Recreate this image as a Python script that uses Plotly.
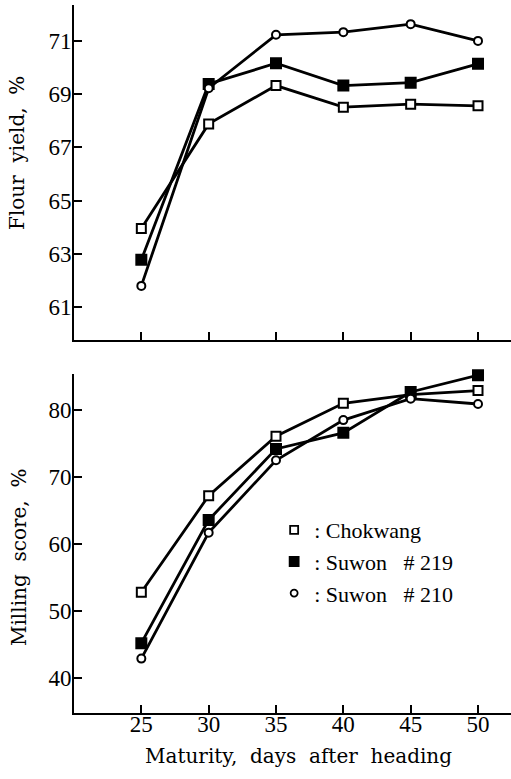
import plotly.graph_objects as go
from plotly.subplots import make_subplots

days = [25, 30, 35, 40, 45, 50]
legend_labels = [":\u00a0Chokwang",
                 ":\u00a0Suwon\u00a0\u00a0\u00a0#\u00a0219",
                 ":\u00a0Suwon\u00a0\u00a0\u00a0#\u00a0210"]

flour_chokwang = [63.95, 67.88, 69.32, 68.51, 68.62, 68.56]
flour_suwon219 = [62.77, 69.38, 70.16, 69.32, 69.43, 70.14]
flour_suwon210 = [61.79, 69.22, 71.23, 71.33, 71.63, 71.00]

mill_chokwang = [52.8, 67.2, 76.1, 81.0, 82.3, 82.9]
mill_suwon219 = [45.2, 63.6, 74.2, 76.6, 82.7, 85.2]
mill_suwon210 = [42.9, 61.7, 72.5, 78.5, 81.7, 80.9]

flour_ticks = [61, 63, 65, 67, 69, 71]
mill_ticks = [40, 50, 60, 70, 80]

x_title = "Maturity,\u00a0\u00a0days\u00a0\u00a0after\u00a0\u00a0heading"
flour_title = "Flour\u00a0\u00a0yield,\u00a0\u00a0%"
mill_title = "Milling\u00a0\u00a0score,\u00a0\u00a0%"

TICKFONT = "Liberation Serif"
TITLEFONT = "DejaVu Serif"
symbols = ["square-open", "square", "circle-open"]
msize = [9, 10, 8]
lsize = [8, 9, 7]

fig = make_subplots(rows=2, cols=1, vertical_spacing=0.05)

flour = [flour_chokwang, flour_suwon219, flour_suwon210]
mill = [mill_chokwang, mill_suwon219, mill_suwon210]

for i in range(3):
    sym = symbols[i]
    base = sym.replace("-open", "")
    fill = "white" if "open" in sym else "black"
    marker = dict(symbol=base, size=msize[i], color=fill,
                  line=dict(color="black", width=2))
    fig.add_trace(go.Scatter(x=days, y=flour[i], mode="lines+markers",
                             line=dict(color="black", width=2.8), cliponaxis=False,
                             marker=marker, showlegend=False), row=1, col=1)
    fig.add_trace(go.Scatter(x=days, y=mill[i], mode="lines+markers",
                             line=dict(color="black", width=2.8), cliponaxis=False,
                             marker=marker, showlegend=False), row=2, col=1)
    fig.add_trace(go.Scatter(x=[None], y=[None], mode="markers", name=legend_labels[i],
                             marker=dict(symbol=base, size=lsize[i], color=fill,
                                         line=dict(color="black", width=1.8)),
                             showlegend=True), row=2, col=1)

axis_common = dict(showline=True, linecolor="black", linewidth=1.6, showgrid=False,
                   zeroline=False, ticks="inside", ticklen=8, tickwidth=1.6,
                   tickcolor="black",
                   tickfont=dict(family=TICKFONT, size=23, color="black"))

fig.update_xaxes(range=[20.0, 52.45], tickvals=days, **axis_common)
fig.update_xaxes(showticklabels=False, row=1, col=1)
fig.update_xaxes(ticktext=[str(d) for d in days], ticklabelstandoff=-10, row=2, col=1)

fig.update_yaxes(**axis_common)
fig.update_yaxes(range=[59.76, 72.35], tickvals=flour_ticks, domain=[0.527, 1.0],
                 ticklabelstandoff=-4, row=1, col=1)
fig.update_yaxes(range=[34.78, 85.38], tickvals=mill_ticks, domain=[0.0, 0.4788],
                 ticklabelstandoff=-4, row=2, col=1)

tfont = dict(family=TITLEFONT, size=20, color="black")
annotations = [
    dict(text=x_title, xref="paper", yref="paper", x=0.513, y=0,
         xanchor="center", yanchor="middle", yshift=-43, showarrow=False, font=tfont),
    dict(text=flour_title, xref="paper", yref="paper", x=0, y=(713 - 153) / 708,
         xanchor="center", yanchor="middle", xshift=-57, textangle=-90,
         showarrow=False, font=tfont),
    dict(text=mill_title, xref="paper", yref="paper", x=0, y=(713 - 558) / 708,
         xanchor="center", yanchor="middle", xshift=-55, textangle=-90,
         showarrow=False, font=tfont),
]

fig.update_layout(
    width=511, height=779,
    margin=dict(l=74, r=0, t=5, b=66),
    paper_bgcolor="white", plot_bgcolor="white",
    font=dict(family=TICKFONT, color="black"),
    annotations=annotations,
    legend=dict(x=0.458, y=0.288, xanchor="left", yanchor="top",
                bgcolor="rgba(0,0,0,0)",
                font=dict(family=TICKFONT, size=22, color="black"),
                itemwidth=30, tracegroupgap=0),
)

fig.write_html("out.html", config={"displayModeBar": False},
               post_script="document.body.style.margin='0';")
